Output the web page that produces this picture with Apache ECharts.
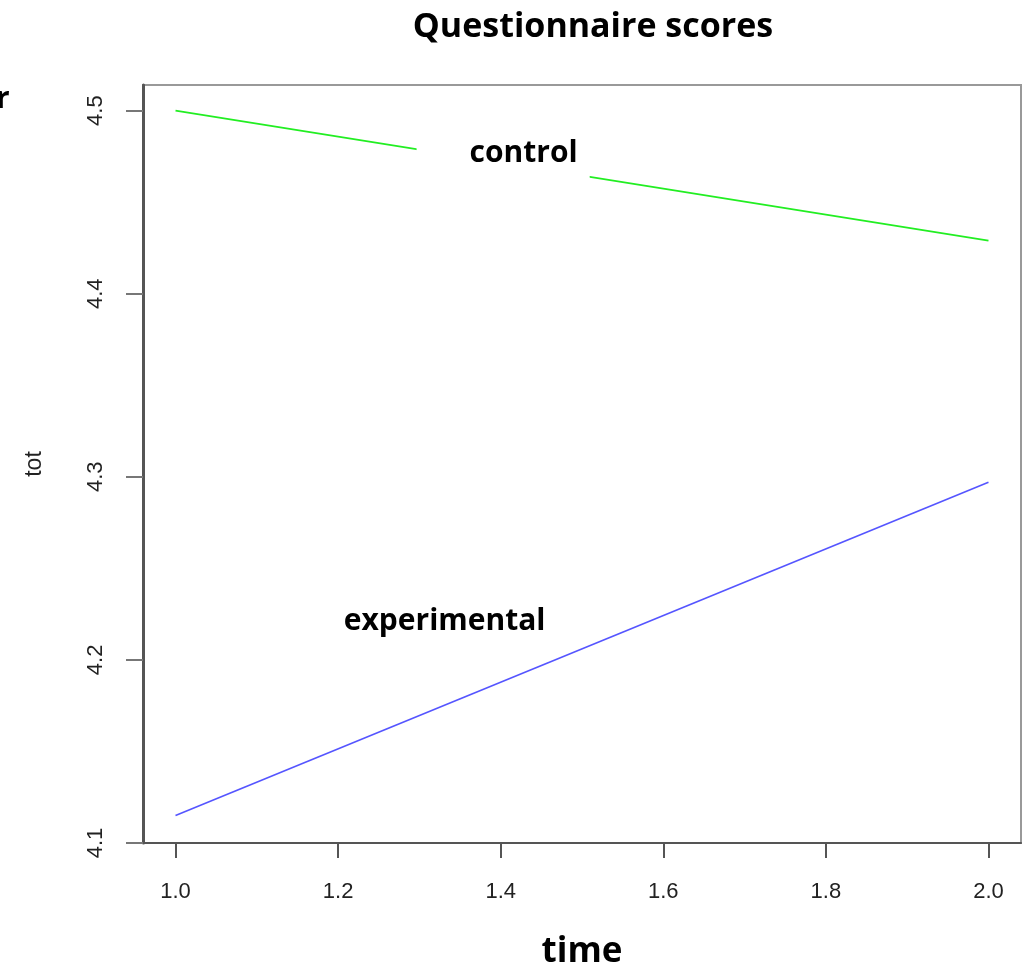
<!DOCTYPE html>
<html>
<head>
<meta charset="utf-8">
<script src="https://cdn.jsdelivr.net/npm/echarts@6/dist/echarts.min.js"></script>
<style>
    html, body { margin: 0; padding: 0; background: #fff; }
    #main { width: 1023px; height: 966px; }
</style>
</head>
<body>
<div id="main"></div>
<script>
// data
var timePoints = [1.0, 2.0];
var controlScores = [4.5, 4.429];
var experimentalScores = [4.115, 4.297];
var xTicks = [1.0, 1.2, 1.4, 1.6, 1.8, 2.0];
var yTicks = [4.1, 4.2, 4.3, 4.4, 4.5];
// label anchors (data coords)
var labelNames = ['control', 'experimental'];
var labelPos = [[1.403, 4.4765], [1.331, 4.221]];
var labelPad = [[14, 12, 18, 53], [10, 26, 10, 26]];

function pairs(xs, ys) {
    var out = [];
    for (var i = 0; i < xs.length; i++) {
        out.push([xs[i], ys[i]]);
    }
    return out;
}

var myChart = echarts.init(document.getElementById('main'));
var tickFont = { fontFamily: 'Liberation Sans', fontSize: 22, color: '#222' };

var option = {
    animation: false,
    backgroundColor: '#fff',
    title: {
        text: 'Questionnaire scores',
        left: 588,
        top: 5,
        textAlign: 'center',
        textStyle: { fontFamily: 'Open Sans', fontWeight: 'bold', fontSize: 34, color: '#000' }
    },
    grid: {
        left: 143, right: 2, top: 85, bottom: 123,
        outerBoundsMode: 'none',
        containLabel: false,
        show: true,
        borderColor: '#999',
        borderWidth: 2
    },
    xAxis: {
        type: 'value',
        min: 0.96, max: 2.04,
        name: 'time',
        nameLocation: 'middle',
        nameGap: 92,
        nameTextStyle: { fontFamily: 'Open Sans', fontWeight: 'bold', fontSize: 35, color: '#000' },
        axisLine: { show: true, lineStyle: { color: '#555', width: 2 } },
        axisTick: { show: true, length: 15, lineStyle: { color: '#555', width: 2 }, customValues: xTicks },
        axisLabel: {
            customValues: xTicks,
            margin: 38,
            formatter: function (v) { return v.toFixed(1); },
            fontFamily: tickFont.fontFamily, fontSize: tickFont.fontSize, color: tickFont.color
        },
        splitLine: { show: false }
    },
    yAxis: {
        type: 'value',
        min: 4.1, max: 4.514,
        name: 'tot',
        nameLocation: 'middle',
        nameGap: 97,
        nameTextStyle: { fontFamily: 'Liberation Sans', fontSize: 23, color: '#222' },
        axisLine: { show: true, lineStyle: { color: '#555', width: 3 } },
        axisTick: { show: true, length: 17, lineStyle: { color: '#777', width: 2 }, customValues: yTicks },
        axisLabel: {
            customValues: yTicks,
            rotate: 90,
            margin: 36,
            formatter: function (v) { return v.toFixed(1); },
            fontFamily: tickFont.fontFamily, fontSize: tickFont.fontSize, color: tickFont.color
        },
        splitLine: { show: false }
    },
    series: [
        {
            name: 'control',
            type: 'line',
            data: pairs(timePoints, controlScores),
            symbol: 'none',
            lineStyle: { color: '#22ee22', width: 1.6 },
            z: 2
        },
        {
            name: 'experimental',
            type: 'line',
            data: pairs(timePoints, experimentalScores),
            symbol: 'none',
            lineStyle: { color: '#5555ff', width: 1.6 },
            z: 2
        },
        {
            // group labels, white box hides the line behind them
            type: 'scatter',
            symbolSize: 0,
            z: 10,
            itemStyle: { opacity: 1 },
            emphasis: { disabled: true },
            data: labelPos.map(function (p, i) {
                return { value: p, name: labelNames[i], label: { padding: labelPad[i] } };
            }),
            label: {
                show: true,
                position: 'inside',
                formatter: '{b}',
                fontFamily: 'Open Sans',
                fontWeight: 'bold',
                fontSize: 30,
                color: '#000',
                backgroundColor: '#fff'
            }
        }
    ],
    graphic: [
        {
            type: 'text',
            left: -4,
            top: 84,
            style: { text: 'r', fontFamily: 'Open Sans', fontWeight: 'bold', fontSize: 30, fill: '#000' }
        }
    ]
};

myChart.setOption(option);
</script>
</body>
</html>
